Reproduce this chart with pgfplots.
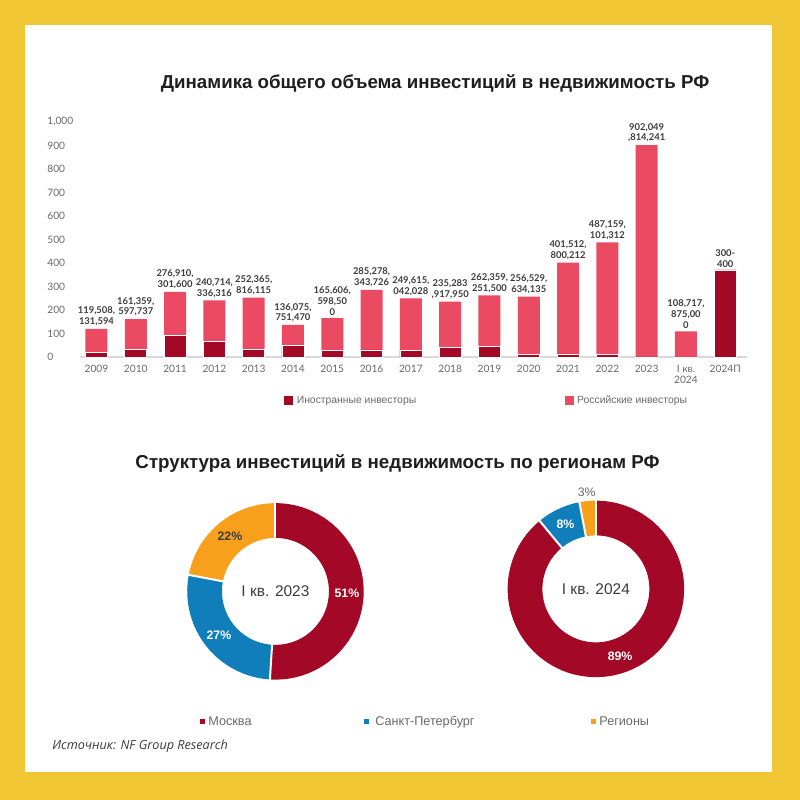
\documentclass[border=0pt]{standalone}
\usepackage{fontspec}
\usepackage{pgfplots}
\pgfplotsset{compat=1.18}
\setmainfont{Liberation Sans}
\newfontfamily\latof{Lato}
\newfontfamily\opensans{Open Sans}
\definecolor{gold}{RGB}{240,198,52}
\definecolor{darkred}{RGB}{163,8,38}
\definecolor{pinkred}{RGB}{234,74,98}
\definecolor{spb}{RGB}{16,126,186}
\definecolor{reg}{RGB}{248,160,28}
\definecolor{txt}{RGB}{30,30,30}
\definecolor{tickc}{RGB}{105,105,105}
\definecolor{lblc}{RGB}{60,60,60}
\begin{document}
\begin{tikzpicture}[x=0.02cm,y=-0.02cm]
\useasboundingbox (0,0) rectangle (800,800);
\fill[gold] (0,0) rectangle (800,800);
\fill[white] (25,25) rectangle (772,772);
\node[font=\bfseries\fontsize{10.65}{13}\selectfont, text=txt] at (435,83) {Динамика общего объема инвестиций в недвижимость РФ};

\begin{axis}[
  at={(1.6cm,-7.14cm)}, anchor=south west,
  scale only axis, width=13.34cm, height=4.7cm,
  ybar, bar width=0.44cm, bar shift=0pt,
  xmin=-0.42, xmax=16.55, ymin=0, ymax=1000,
  enlargelimits=false, clip=false,
  axis x line*=bottom, axis y line*=left,
  y axis line style={draw=none},
  x axis line style={draw=black!15, line width=0.8pt},
  major tick length=0pt,
  xtick={0,...,16},
  xticklabels={2009,2010,2011,2012,2013,2014,2015,2016,2017,2018,2019,2020,2021,2022,2023,{I кв.\\2024},2024П},
  xticklabel style={align=center, font=\latof\fontsize{5.8}{6.5}\selectfont, text=tickc, yshift=-1pt},
  ytick={0,100,...,1000},
  scaled y ticks=false,
  /pgf/number format/assume math mode=true,
  /pgf/number format/1000 sep={,},
  yticklabel style={anchor=west, inner sep=0pt, xshift=-0.66cm, font=\latof\fontsize{5.8}{6.5}\selectfont, text=tickc},
  legend columns=2,
  reverse legend,
  legend cell align=left,
  legend style={at={(axis description cs:0,0)}, anchor=west, xshift=4.08cm, yshift=-0.88cm, draw=none, fill=none, inner sep=0pt, font=\fontsize{5.9}{7}\selectfont, text=tickc, /tikz/every even column/.append style={column sep=2.9cm}},
  legend image code/.code={\fill[#1, draw=none] (0cm,-0.09cm) rectangle (0.18cm,0.09cm);},
]
% total (Russian + foreign), labelled with the chart's own text
\addplot[fill=pinkred, draw=none,
  nodes near coords, point meta=explicit symbolic,
  every node near coord/.append style={anchor=south, yshift=-0.07cm, align=center, font=\latof\bfseries\fontsize{5.35}{6.2}\selectfont, text=lblc}] coordinates {
(0,119.5) [119,508,\\131,594]
(1,161.4) [161,359,\\597,737]
(2,276.9) [276,910,\\301,600]
(3,240.7) [240,714,\\336,316]
(4,252.4) [252,365,\\816,115]
(5,136.1) [136,075,\\751,470]
(6,165.6) [165,606,\\598,50\\0]
(7,285.3) [285,278,\\343,726]
(8,249.6) [249,615,\\042,028]
(9,235.3) [235,283\\,917,950]
(10,262.4) [262,359,\\251,500]
(11,256.5) [256,529,\\634,135]
(12,401.5) [401,512,\\800,212]
(13,487.2) [487,159,\\101,312]
(14,902.0) [902,049\\,814,241]
(15,108.7) [108,717,\\875,00\\0]
(16,370) [300-\\400]};
\addlegendentry{Российские инвесторы}
% foreign investors
\addplot[fill=darkred, draw=white, line width=0.4pt] coordinates {
(0,18) (1,31) (2,91) (3,65) (4,31) (5,48) (6,28) (7,30) (8,28) (9,41) (10,45) (11,11) (12,13) (13,10) (14,0) (15,0) (16,370)};
\addlegendentry{Иностранные инвесторы}
\end{axis}

\node[font=\bfseries\fontsize{10.65}{13}\selectfont, text=txt] at (397.5,463) {Структура инвестиций в недвижимость по регионам РФ};

% Donut 1: I kv. 2023 -- Moscow 51, SPb 27, Regions 22
\begin{axis}[at={(5.51cm,-11.83cm)}, anchor=center, scale only axis, width=3.6cm, height=3.6cm, hide axis, clip=false, xmin=-1, xmax=1, ymin=-1, ymax=1]
\draw[darkred, line width=0.695cm] (axis cs:0,0) ++(90:1.4175cm) arc[start angle=90, delta angle=-3.6*51, radius=1.4175cm];
\draw[spb, line width=0.695cm] (axis cs:0,0) ++({90-3.6*51}:1.4175cm) arc[start angle={90-3.6*51}, delta angle=-3.6*27, radius=1.4175cm];
\draw[reg, line width=0.695cm] (axis cs:0,0) ++({90-3.6*78}:1.4175cm) arc[start angle={90-3.6*78}, delta angle=-3.6*22, radius=1.4175cm];
\draw[white, line width=0.04cm] (axis cs:0,0) ++(90:1.0cm) -- ++(90:0.85cm);
\draw[white, line width=0.04cm] (axis cs:0,0) ++({90-3.6*51}:1.0cm) -- ++({90-3.6*51}:0.85cm);
\draw[white, line width=0.04cm] (axis cs:0,0) ++({90-3.6*78}:1.0cm) -- ++({90-3.6*78}:0.85cm);
\path (axis cs:0,0) ++({90-3.6*51/2}:1.43cm) node[text=white, font=\bfseries\fontsize{7}{8}\selectfont] {51\%};
\path (axis cs:0,0) ++({90-3.6*(51+27/2)}:1.43cm) node[text=white, font=\bfseries\fontsize{7}{8}\selectfont] {27\%};
\path (axis cs:0,0) ++({90-3.6*(78+22/2)}:1.43cm) node[text=lblc, font=\bfseries\fontsize{7}{8}\selectfont] {22\%};
\node[text=lblc, font=\fontsize{8.8}{10}\selectfont] at (axis cs:0,0) {I кв. 2023};
\end{axis}

% Donut 2: I kv. 2024 -- Moscow 89, SPb 8, Regions 3
\begin{axis}[at={(11.92cm,-11.78cm)}, anchor=center, scale only axis, width=3.6cm, height=3.6cm, hide axis, clip=false, xmin=-1, xmax=1, ymin=-1, ymax=1]
\draw[darkred, line width=0.695cm] (axis cs:0,0) ++(90:1.4175cm) arc[start angle=90, delta angle=-3.6*89, radius=1.4175cm];
\draw[spb, line width=0.695cm] (axis cs:0,0) ++({90-3.6*89}:1.4175cm) arc[start angle={90-3.6*89}, delta angle=-3.6*8, radius=1.4175cm];
\draw[reg, line width=0.695cm] (axis cs:0,0) ++({90-3.6*97}:1.4175cm) arc[start angle={90-3.6*97}, delta angle=-3.6*3, radius=1.4175cm];
\draw[white, line width=0.04cm] (axis cs:0,0) ++(90:1.0cm) -- ++(90:0.85cm);
\draw[white, line width=0.04cm] (axis cs:0,0) ++({90-3.6*89}:1.0cm) -- ++({90-3.6*89}:0.85cm);
\draw[white, line width=0.04cm] (axis cs:0,0) ++({90-3.6*97}:1.0cm) -- ++({90-3.6*97}:0.85cm);
\path (axis cs:0,0) ++({90-3.6*89/2}:1.43cm) node[text=white, font=\bfseries\fontsize{7}{8}\selectfont] {89\%};
\path (axis cs:0,0) ++({90-3.6*(89+8/2)}:1.43cm) node[text=white, font=\bfseries\fontsize{7}{8}\selectfont] {8\%};
\path (axis cs:0,0) ++({90-3.6*(97+3/2)}:1.95cm) node[text=tickc, font=\fontsize{7}{8}\selectfont] {3\%};
\node[text=lblc, font=\fontsize{8.8}{10}\selectfont] at (axis cs:0,0) {I кв. 2024};
\end{axis}

% donut legend
\fill[darkred] (200.2,719.2) rectangle (205.2,724.2);
\node[anchor=west, inner sep=0pt, text=tickc, font=\fontsize{7.2}{8}\selectfont] at (208,721.7) {Москва};
\fill[spb] (364.2,719.2) rectangle (369.2,724.2);
\node[anchor=west, inner sep=0pt, text=tickc, font=\fontsize{7.2}{8}\selectfont] at (375,721.7) {Санкт-Петербург};
\fill[reg] (590.5,719.2) rectangle (595.5,724.2);
\node[anchor=west, inner sep=0pt, text=tickc, font=\fontsize{7.2}{8}\selectfont] at (599,721.7) {Регионы};

\node[anchor=west, inner sep=0pt, text=lblc, font=\opensans\itshape\fontsize{7.2}{8}\selectfont] at (52,746) {Источник: NF Group Research};
\end{tikzpicture}
\end{document}
